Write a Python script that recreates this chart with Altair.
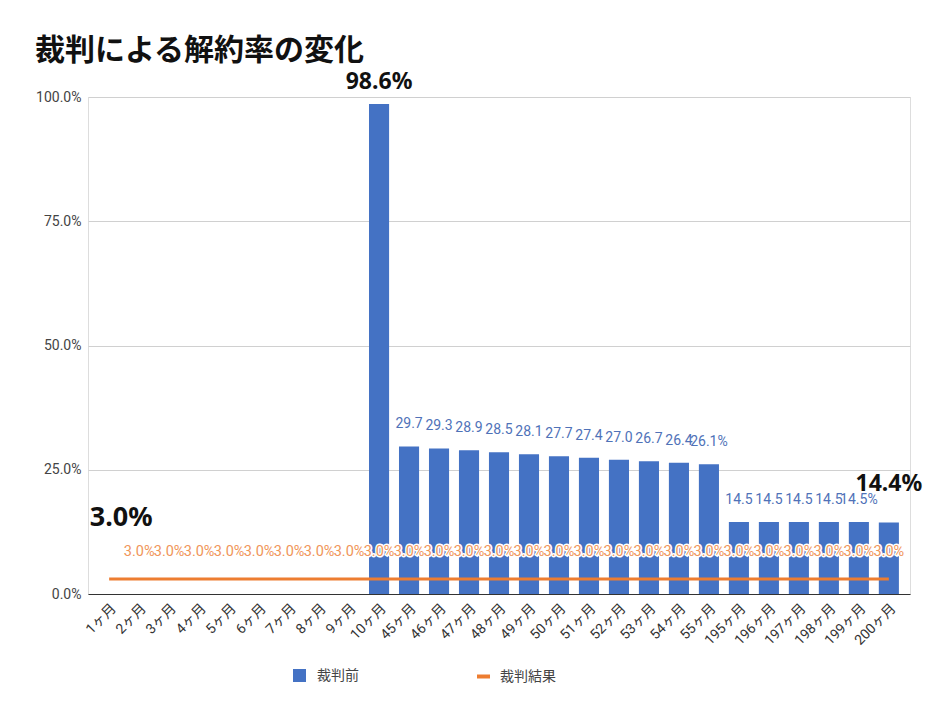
import altair as alt
import pandas as pd

months = ["1ヶ月", "2ヶ月", "3ヶ月", "4ヶ月", "5ヶ月", "6ヶ月", "7ヶ月", "8ヶ月", "9ヶ月", "10ヶ月",
          "45ヶ月", "46ヶ月", "47ヶ月", "48ヶ月", "49ヶ月", "50ヶ月", "51ヶ月", "52ヶ月", "53ヶ月",
          "54ヶ月", "55ヶ月", "195ヶ月", "196ヶ月", "197ヶ月", "198ヶ月", "199ヶ月", "200ヶ月"]
before = [None] * 9 + [98.6, 29.7, 29.3, 28.9, 28.5, 28.1, 27.7, 27.4, 27.0, 26.7, 26.4, 26.1,
                       14.5, 14.5, 14.5, 14.5, 14.5, 14.4]
after = [3.0] * 27
# label texts as visible in the picture ("%" hidden where the next label overlaps)
bar_labels = [""] * 10 + ["29.7", "29.3", "28.9", "28.5", "28.1", "27.7", "27.4", "27.0", "26.7",
                          "26.4", "26.1%", "14.5", "14.5", "14.5", "14.5", "14.5%", ""]
after_labels = [""] + ["3.0%"] * 26

BLUE = "#4472C4"
ORANGE = "#ED7D31"
LABEL_FONT = "Roboto, 'Noto Sans CJK JP', sans-serif"

df = pd.DataFrame({
    "month": months,
    "before": before,
    "after": after,
    "bar_label": bar_labels,
    "after_label": after_labels,
    "idx": list(range(len(months))),
    "s1": "裁判前",
    "s2": "裁判結果",
})

x = alt.X("month:N", sort=months,
          scale=alt.Scale(paddingInner=0.33, paddingOuter=0.37),
          axis=alt.Axis(title=None, labelAngle=-45, labelFontSize=14, labelColor="#333",
                        labelFont=LABEL_FONT, ticks=False, domainColor="#333", domainWidth=1,
                        labelPadding=7, grid=False))
yscale = alt.Scale(domain=[0, 100])
yaxis = alt.Axis(title=None, values=[0, 25, 50, 75, 100],
                 labelExpr="format(datum.value, '.1f') + '%'",
                 labelFontSize=14, labelColor="#444", labelFont=LABEL_FONT,
                 ticks=False, domain=False, gridColor="#d0d0d0", labelPadding=7)

base = alt.Chart(df).encode(x=x)

bars = base.mark_bar().encode(
    y=alt.Y("before:Q", scale=yscale, axis=yaxis),
    fill=alt.Fill("s1:N", scale=alt.Scale(domain=["裁判前"], range=[BLUE]),
                  legend=alt.Legend(title=None, orient="none", legendX=204, legendY=571,
                                    symbolType="square", symbolSize=169, labelFontSize=14,
                                    labelColor="#444", labelFont="Noto Sans CJK JP",
                                    padding=0, labelOffset=10)),
)

line = base.mark_line(strokeWidth=3).encode(
    y=alt.Y("after:Q", scale=yscale),
    stroke=alt.Stroke("s2:N", scale=alt.Scale(domain=["裁判結果"], range=[ORANGE]),
                      legend=alt.Legend(title=None, orient="none", legendX=387, legendY=571,
                                        symbolType="stroke", symbolSize=169,
                                        symbolStrokeWidth=4, labelFontSize=14,
                                        labelColor="#444", labelFont="Noto Sans CJK JP",
                                        padding=0, labelOffset=8)),
)

orange_halo = base.transform_filter("datum.after_label != ''").mark_text(
    fontSize=14.5, font=LABEL_FONT, dy=-27, stroke="white", strokeWidth=3, fill="white"
).encode(y=alt.Y("after:Q", scale=yscale), text="after_label:N")

orange_text = base.transform_filter("datum.after_label != ''").mark_text(
    fontSize=14.5, font=LABEL_FONT, dy=-27, color="#F0955A"
).encode(y=alt.Y("after:Q", scale=yscale), text="after_label:N")

blue_text = base.transform_filter("datum.bar_label != ''").mark_text(
    fontSize=14, font=LABEL_FONT, dy=-22, color="#4F72B8"
).encode(y=alt.Y("before:Q", scale=yscale), text="bar_label:N")

big_first = base.transform_filter("datum.idx == 0").transform_calculate(
    t="format(datum.after, '.1f') + '%'"
).mark_text(
    fontSize=27, fontWeight="bold", font="Noto Sans", dy=-61, dx=12, color="#111"
).encode(y=alt.Y("after:Q", scale=yscale), text="t:N")

big_peak = base.transform_filter("datum.idx == 9").transform_calculate(
    t="format(datum.before, '.1f') + '%'"
).mark_text(
    fontSize=23, fontWeight="bold", font="Noto Sans", dy=-22, color="#111"
).encode(y=alt.Y("before:Q", scale=yscale), text="t:N")

big_last = base.transform_filter("datum.idx == 26").transform_calculate(
    t="format(datum.before, '.1f') + '%'"
).mark_text(
    fontSize=23, fontWeight="bold", font="Noto Sans", dy=-38, color="#111"
).encode(y=alt.Y("before:Q", scale=yscale), text="t:N")

chart = alt.layer(bars, line, orange_halo, orange_text, blue_text, big_first, big_peak, big_last).properties(
    width=822, height=497,
    autosize=alt.AutoSizeParams(type="none"),
    padding={"left": 80, "top": 89, "right": 28, "bottom": 118},
    title=alt.TitleParams("裁判による解約率の変化", anchor="start", frame="group", fontSize=30,
                          fontWeight="bold", font="Noto Sans CJK JP", color="#111",
                          dx=-53, dy=-1),
).configure_view(stroke=None).configure(background="white")

chart.save("out.html", embed_options={"renderer": "svg", "actions": False})
